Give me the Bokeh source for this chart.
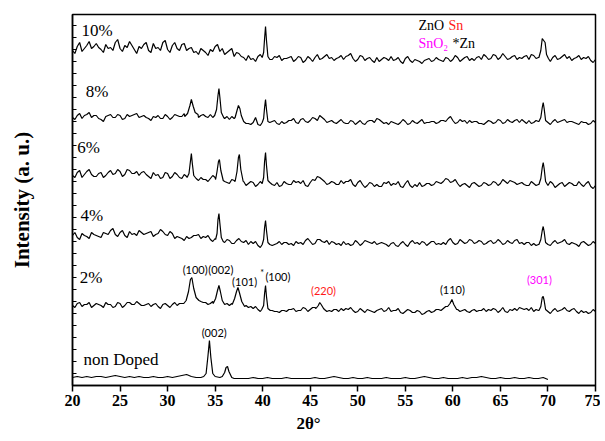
import numpy as np
from bokeh.plotting import figure
from bokeh.models import Range1d, Label, FixedTicker, Title
from bokeh.embed import file_html
from bokeh.resources import INLINE

# ---------------- data ----------------
theta_start = 20.0
theta_step = 0.5

series_names = ["non Doped", "2%", "4%", "6%", "8%", "10%"]
offsets = [8, 80, 150, 210, 268, 335]

# relative intensity at 20.0, 20.5, ... (grid points)
base_nd = [0, 1, 0, 1, 0, 1, 1, 0, 1, 2,
           1, 0, 1, 0, 1, 0, 0, 1, 0, 0,
           1, 0, 1, 2, 3, 1, 0, 0, 1, 1,
           1, 0, 1, 1, -1, -1, -1, -1, 0, -1,
           -1, 0, -1, -1, -1, 0, -1, -1, -1, -1,
           -1, 0, -1, -1, 0, 1, 0, -1, -1, 0,
           -1, -1, 0, -1, -1, -1, 0, -1, -1, -1,
           0, -1, -1, 0, 1, 0, -1, -1, 0, -1,
           -1, -1, 0, -1, 0, 0, 1, 0, -1, -1,
           0, -1, -1, 0, -1, -1, 0, -1, -1, 0,
           -2]
base_2 = [0, 2, -1, 1, -2, 2, 0, 3, 1, -1,
          2, 0, 3, 1, 2, 0, 2, 1, -1, 1,
          0, 1, 0, 2, 2, 2, 2, 4, 3, 2,
          2, 2, 1, 0, 3, 3, 3, -2, -3, -4,
          -4, -4, -5, -6, -5, -6, -4, -6, -5, -3,
          -4, -2, 0, -4, -5, -4, -6, -5, -4, -5,
          -6, -5, -4, -6, -5, -3, -5, -6, -5, -7,
          -6, -5, -7, -6, -8, -5, -6, -4, -3, 0,
          -2, -4, -5, -6, -5, -6, -5, -6, -5, -4,
          -5, -6, -4, -3, -2, -4, -5, -6, -5, -5,
          -6, -5, -6, -4, -5, -4, -6, -5, -6, -7,
          -6]
base_4 = [0, -2, 2, -1, 3, 0, -2, 2, 5, 1,
          3, 0, 4, 2, 5, 1, 3, -1, 2, 4,
          0, 2, -1, -3, -1, -2, 0, -3, -2, -4,
          -3, -3, -7, -5, -8, -3, -7, -9, -8, -10,
          -9, -9, -10, -8, -9, -7, -8, -6, -7, -5,
          -6, -8, -4, -7, -9, -7, -8, -6, -8, -9,
          -7, -8, -6, -8, -9, -7, -9, -8, -10, -8,
          -9, -7, -8, -9, -7, -8, -6, -8, -7, -5,
          -7, -8, -6, -7, -5, -7, -6, -8, -5, -7,
          -6, -8, -7, -5, -8, -9, -7, -8, -9, -9,
          -9, -7, -8, -6, -8, -7, -9, -7, -8, -9,
          -8]
base_6 = [0, 3, -2, 4, 1, -1, 3, 0, 5, 2,
          4, 1, 5, 2, 0, 4, -1, 3, 1, -2,
          2, -1, 1, -3, -1, -2, -3, -2, -4, -3,
          -2, -3, -6, -8, -5, -6, -6, -8, -7, -9,
          -8, -8, -9, -7, -10, -8, -9, -7, -8, -10,
          -7, -5, -2, -6, -8, -7, -9, -8, -6, -9,
          -7, -9, -10, -8, -9, -11, -8, -10, -9, -11,
          -8, -10, -9, -7, -10, -8, -9, -7, -6, -4,
          -6, -8, -9, -10, -8, -9, -10, -8, -9, -7,
          -8, -6, -5, -7, -8, -9, -10, -8, -9, -9,
          -10, -8, -10, -7, -9, -8, -10, -9, -8, -11,
          -10]
base_8 = [0, 2, -1, 3, 0, 2, -2, 1, 3, 0,
          2, -1, 1, 3, 0, 2, -1, 1, 2, -1,
          1, 0, 2, 1, 1, 1, 3, 2, 1, 3,
          2, 2, -1, -2, -1, 0, -4, -6, -5, -7,
          -5, -5, -4, -6, -4, -5, -3, -5, -2, -4,
          -3, -1, 2, -2, -4, -5, -4, -5, -6, -4,
          -5, -6, -4, -3, -1, -4, -5, -4, -6, -5,
          -4, -6, -5, -4, -6, -5, -4, -5, -3, -1,
          -3, -5, -4, -6, -5, -4, -6, -5, -4, -5,
          -3, -5, -4, -3, -5, -4, -3, -5, -4, -4,
          -5, -4, -5, -3, -5, -4, -6, -4, -5, -6,
          -5]
base_10 = [0, 4, -1, 5, 2, 7, 1, 6, 3, 8,
           2, 5, 9, 1, 4, 6, 0, 7, 3, 8,
           1, 5, 2, 6, 0, 3, -1, 2, -2, 1,
           4, -1, -4, 0, -6, -3, -7, -5, -8, -6,
           -7, -7, -9, -7, -10, -8, -6, -9, -7, -10,
           -8, -7, -9, -6, -8, -10, -7, -9, -5, -8,
           -9, -6, -8, -10, -7, -9, -8, -6, -9, -11,
           -8, -10, -9, -11, -10, -8, -10, -9, -11, -8,
           -9, -7, -9, -6, -8, -7, -9, -6, -8, -5,
           -7, -6, -8, -5, -7, -6, -9, -5, -7, -6,
           -8, -7, -9, -6, -8, -10, -7, -9, -8, -10,
           -9]

# relative intensity at 20.25, 20.75, ... (between grid points)
mid_2 = [-2, 3, 1, 3, 0, 1, -2, 1, -2, 3,
         -2, 3, 1, 4, 0, 1, -1, 2, -3, 2,
         -2, 3, 2, 3, 0, 0, 0, 3, 1, 4,
         0, 0, 2, 2, 0, 0, 0, -1, -1, -6,
         0, 0, -6, -7, -5, -4, -3, -5, -2, -6,
         -2, 0, 0, -6, -6, -4, -3, -3, -2, -7,
         -3, -7, -5, -7, -4, -6, -2, -5, -3, -8,
         -4, -7, -5, -9, -6, -7, -4, -5, -1, 0,
         0, -6, -4, -7, -4, -5, -3, -4, -3, -7,
         -2, -7, -5, -5, -3, -3, -2, -4, 0, 0,
         -8, -3, -5, -2, -6, -3, -8, -7, -8, -4]
mid_4 = [3, -4, 0, -3, 1, -1, 3, 1, 7, -1,
         5, -2, 1, 0, 3, 2, 4, 1, 6, 1,
         4, -3, -2, -5, -3, 0, 1, -1, 0, -6,
         0, -6, -4, -8, -5, -6, -5, -6, -6, -12,
         0, 0, -9, -6, -7, -9, -10, -8, -9, -3,
         -9, -4, -6, -5, -6, -9, -10, -9, -10, -5,
         -10, -5, -7, -6, -8, -8, -11, -7, -11, -6,
         -11, -5, -7, -6, -10, -6, -9, -9, -9, -3,
         -9, -4, -8, -4, -8, -5, -9, -6, -8, -4,
         -9, -5, -8, -4, -7, -7, -10, -10, 0, 0,
         -10, -5, -7, -4, -9, -8, -11, -6, -10, -6]
mid_6 = [-2, 5, 1, 6, -1, 2, -2, 3, 1, 6,
         -1, 6, 2, 4, 3, 1, -3, 0, -3, 3,
         -3, 3, -2, 1, 0, 0, -5, -4, -6, 0,
         -5, -1, -7, -4, 0, 0, -10, -6, -11, -6,
         0, 0, -10, -11, -6, -9, -5, -6, -5, -11,
         -4, -1, -4, -9, -6, -9, -5, -6, -4, -11,
         -5, -12, -7, -11, -11, -7, -6, -8, -6, -12,
         -5, -12, -11, -11, -8, -10, -6, -8, -3, -7,
         -4, -11, -8, -12, -7, -11, -7, -10, -6, -10,
         -4, -8, -6, -9, -7, -10, -6, -10, 0, 0,
         -6, -12, -8, -11, -7, -10, -6, -11, -6, -13]
mid_8 = [-2, 4, 2, 5, 2, -1, -4, 2, 0, 3,
         -2, 3, 2, 4, 1, 0, -3, 0, -1, 3,
         -2, 3, 1, 4, 0, 0, 0, 3, 0, 0,
         0, 4, 1, 1, -3, 0, -6, -7, 0, -8,
         0, 0, -3, -7, -6, -3, -1, -6, -1, -5,
         0, -3, 0, -5, -3, -6, -2, -6, -3, -7,
         -3, -7, -3, -5, -2, -6, -7, -5, -7, -2,
         -7, -3, -6, -2, -5, -4, -6, -3, -4, 1,
         -6, -2, -3, -3, -4, -6, -7, -3, -6, -2,
         -6, -2, -5, -2, -2, -6, -6, -3, 0, 0,
         -7, -2, -4, -2, -4, -5, -7, -5, -7, -3]
mid_10 = [-3, 8, 2, 9, 4, 3, -2, 2, 0, 11,
          -1, 3, 5, -3, 2, 8, -2, 2, 0, 10,
          -2, 8, 0, 7, 2, -2, -4, 0, -5, -1,
          6, 2, -2, 2, -2, -6, -10, -9, -11, -4,
          0, 0, -6, -5, -8, -7, -11, -6, -12, -6,
          -11, -4, -8, -4, -7, -8, -5, -6, -3, -11,
          -5, -10, -7, -12, -11, -7, -10, -10, -7, -13,
          -6, -12, -10, -13, -9, -11, -7, -10, -7, -11,
          -5, -11, -7, -10, -10, -6, -4, -9, -4, -9,
          -3, -9, -6, -9, -8, -5, -4, -8, 0, 0,
          -11, -5, -8, -4, -6, -8, -5, -7, -6, -12]

# diffraction peaks: (2theta points, relative intensity points)
peaks_nd = [([33.8, 34.05, 34.25, 34.4, 34.55, 34.75, 35.0], [1, 4, 22, 37, 20, 4, 1]),
            ([35.75, 36.0, 36.15, 36.3, 36.45, 36.75], [1, 5, 10, 11, 6, 0])]
peaks_2 = [([31.7, 31.95, 32.2, 32.4, 32.55, 32.75, 33.0, 33.3], [2, 5, 14, 26, 28, 17, 8, 5]),
           ([34.8, 35.05, 35.25, 35.4, 35.55, 35.75, 36.0], [2, 7, 15, 20, 14, 5, 1]),
           ([36.8, 37.05, 37.25, 37.4, 37.55, 37.8, 38.1], [1, 7, 14, 18, 13, 4, -1]),
           ([39.9, 40.1, 40.2, 40.3, 40.4, 40.55, 40.8], [-4, 0, 12, 20, 9, -3, -5]),
           ([45.6, 45.85, 46.0, 46.15, 46.4], [-3, 0, 3, 1, -3]),
           ([59.45, 59.7, 59.9, 60.1, 60.4], [-1, 2, 6, 1, -4]),
           ([69.05, 69.25, 69.4, 69.5, 69.6, 69.75, 70.0], [-5, -1, 8, 9, 5, -4, -6])]
peaks_4 = [([35.05, 35.2, 35.3, 35.4, 35.5, 35.65, 35.85], [-4, 2, 16, 22, 12, -2, -6]),
           ([39.95, 40.1, 40.2, 40.3, 40.4, 40.55, 40.75], [-9, -4, 8, 15, 5, -7, -9]),
           ([69.05, 69.25, 69.4, 69.5, 69.6, 69.75, 70.0], [-9, -4, 5, 9, 4, -7, -9])]
peaks_6 = [([32.05, 32.25, 32.4, 32.5, 32.6, 32.75, 33.0], [-2, 2, 14, 22, 12, 0, -3]),
           ([35.05, 35.2, 35.35, 35.45, 35.6, 35.85], [-4, 4, 14, 16, 5, -5]),
           ([37.1, 37.3, 37.45, 37.55, 37.7, 37.95], [-6, 4, 18, 21, 6, -6]),
           ([39.95, 40.1, 40.2, 40.3, 40.4, 40.55, 40.75], [-8, -2, 14, 23, 10, -5, -7]),
           ([69.05, 69.25, 69.4, 69.5, 69.6, 69.75, 70.0], [-9, -3, 8, 13, 7, -6, -10])]
peaks_8 = [([31.8, 32.1, 32.35, 32.5, 32.7, 32.9, 33.2], [1, 4, 12, 18, 11, 5, 3]),
           ([34.95, 35.15, 35.3, 35.4, 35.5, 35.65, 35.9], [2, 8, 22, 29, 20, 5, 0]),
           ([37.1, 37.3, 37.45, 37.6, 37.75, 38.0], [0, 7, 12, 9, 2, -4]),
           ([39.95, 40.1, 40.2, 40.3, 40.4, 40.55, 40.75], [-5, -1, 10, 18, 8, -4, -5]),
           ([69.05, 69.25, 69.4, 69.5, 69.6, 69.75, 70.0], [-4, 0, 10, 15, 9, -3, -5])]
peaks_10 = [([39.95, 40.1, 40.2, 40.3, 40.4, 40.55, 40.75], [-7, -2, 12, 24, 10, -6, -9]),
            ([69.05, 69.25, 69.4, 69.55, 69.7, 69.85, 70.05], [-7, 0, 12, 10, 8, -4, -8])]

bases = [base_nd, base_2, base_4, base_6, base_8, base_10]
mids = [None, mid_2, mid_4, mid_6, mid_8, mid_10]
peaks = [peaks_nd, peaks_2, peaks_4, peaks_6, peaks_8, peaks_10]

# series label anchor (2theta, intensity)
label_x = [21.15, 20.75, 20.85, 20.5, 21.4, 20.95]
label_y = [26, 108, 170, 238, 294, 355]

# Miller-index annotations
hkl_text = ["(100)", "(002)", "(101)", "(100)", "(220)", "(110)", "(301)", "(002)"]
hkl_x = [32.9, 35.6, 38.1, 41.6, 46.4, 59.95, 69.1, 34.9]
hkl_y = [116, 116, 104, 109, 95, 96, 106, 53]
hkl_color = ["black", "black", "black", "black", "#ff1a1a", "black", "#ff00ff", "black"]

x_ticks = [20, 25, 30, 35, 40, 45, 50, 55, 60, 65, 70, 75]
y_minor_ticks = list(range(0, 372, 12))


def build(base, mid, pk, off):
    xs = theta_start + theta_step * np.arange(len(base))
    ys = np.array(base, dtype=float)
    if mid is not None:
        xm = theta_start + theta_step / 2 + theta_step * np.arange(len(mid))
        xs = np.concatenate([xs, xm])
        ys = np.concatenate([ys, np.array(mid, dtype=float)])
    keep = np.ones(len(xs), dtype=bool)
    for px, _ in pk:
        keep &= ~((xs >= px[0] - 1e-9) & (xs <= px[-1] + 1e-9))
    allx = list(xs[keep])
    ally = list(ys[keep])
    for px, py in pk:
        allx += list(px)
        ally += list(py)
    order = np.argsort(allx)
    return np.array(allx)[order], np.array(ally)[order] + off


# ---------------- figure ----------------
p = figure(width=600, height=441, output_backend="svg", toolbar_location=None,
           x_range=Range1d(20, 75), y_range=Range1d(0, 371),
           min_border_left=72, min_border_right=5, min_border_top=14,
           min_border_bottom=56)
p.background_fill_color = "white"
p.border_fill_color = "white"
p.grid.visible = False
p.outline_line_color = "black"
p.outline_line_width = 1.5

for base, mid, pk, off in zip(bases, mids, peaks, offsets):
    x, y = build(base, mid, pk, off)
    p.line(x, y, line_color="black", line_width=1.2)

# axes
p.xaxis.ticker = FixedTicker(ticks=x_ticks)
p.xaxis.major_label_text_font = "Liberation Serif"
p.xaxis.major_label_text_font_style = "bold"
p.xaxis.major_label_text_font_size = "16px"
p.xaxis.major_label_text_color = "black"
p.xaxis.major_tick_out = 6
p.xaxis.major_tick_in = 0
p.xaxis.minor_tick_line_color = None
p.xaxis.axis_line_width = 1.5
p.xaxis.major_tick_line_width = 1.5
p.xaxis.major_label_standoff = 3

p.yaxis.ticker = FixedTicker(ticks=[], minor_ticks=y_minor_ticks)
p.yaxis.minor_tick_in = 4
p.yaxis.minor_tick_out = 0
p.yaxis.major_tick_in = 0
p.yaxis.major_tick_out = 0
p.yaxis.axis_line_width = 1.5
p.yaxis.axis_label = "Intensity (a. u.)"
p.yaxis.axis_label_standoff = 39
p.yaxis.axis_label_text_font = "Liberation Serif"
p.yaxis.axis_label_text_font_style = "bold"
p.yaxis.axis_label_text_font_size = "21px"
p.yaxis.axis_label_text_color = "black"

# x-axis title
p.add_layout(Title(text="2θ°", align="left", offset=224, standoff=7,
                   text_font="Liberation Serif", text_font_style="bold",
                   text_font_size="17px", text_color="black"), "below")

# series labels
for name, lx, ly in zip(series_names, label_x, label_y):
    p.add_layout(Label(x=lx, y=ly, text=name, text_font="Liberation Serif",
                       text_font_size="17px", text_color="black",
                       text_align="left", text_baseline="middle"))

# hkl annotations
for t, hx, hy, c in zip(hkl_text, hkl_x, hkl_y, hkl_color):
    p.add_layout(Label(x=hx, y=hy, text=t, text_font="Lato",
                       text_font_size="11px", text_color=c,
                       text_align="center", text_baseline="middle"))
p.add_layout(Label(x=39.95, y=113, text="*", text_font="Lato",
                   text_font_size="9px", text_color="black",
                   text_align="center", text_baseline="middle"))

# phase legend
legend_items = [("ZnO", "black", 56.38, 360), ("Sn", "#ff1a1a", 59.54, 360),
                ("SnO₂", "#ff00ff", 56.38, 342), ("*Zn", "black", 59.96, 342)]
for t, c, lx, ly in legend_items:
    p.add_layout(Label(x=lx, y=ly, text=t, text_font="Liberation Serif",
                       text_font_size="14px", text_color=c,
                       text_align="left", text_baseline="middle"))

open("out.html", "w").write(file_html(p, INLINE))
